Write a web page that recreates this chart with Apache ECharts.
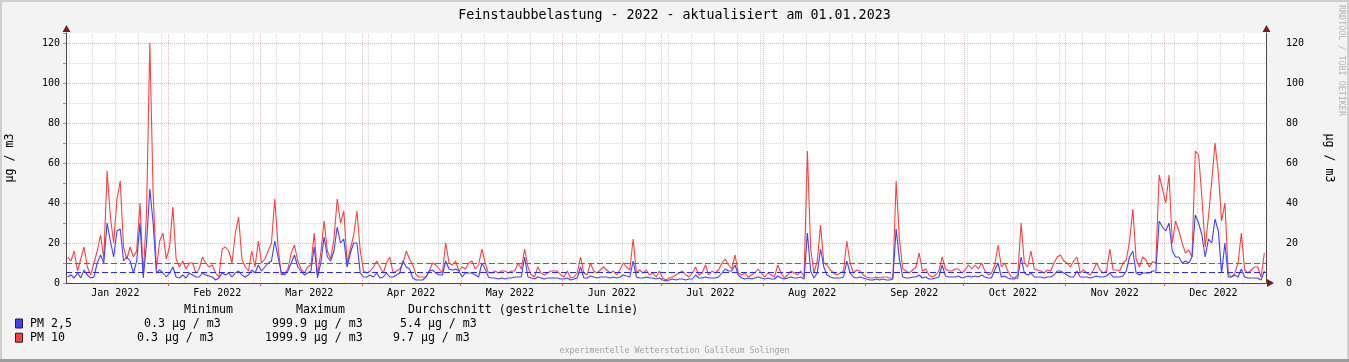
<!DOCTYPE html>
<html><head><meta charset="utf-8">
<script src="https://cdn.jsdelivr.net/npm/echarts@6/dist/echarts.min.js"></script>
<style>html,body{margin:0;padding:0;background:#f3f3f3;overflow:hidden}#c{width:1349px;height:362px}</style>
</head><body><div id="c"></div>
<script>
const chartTitle = 'Feinstaubbelastung - 2022 - aktualisiert am 01.01.2023';
const monthLabels = ['Jan 2022','Feb 2022','Mar 2022','Apr 2022','May 2022','Jun 2022','Jul 2022','Aug 2022','Sep 2022','Oct 2022','Nov 2022','Dec 2022'];
const monthDays = [31,28,31,30,31,30,31,31,30,31,30,31];
const firstSunday = 1; // 2 Jan 2022 (day index)
const yMin = 0, yMax = 125, yStep = 10, yLabelStep = 20;
const unitLabel = 'µg / m3';
const seriesNames = ['PM 2,5', 'PM 10'];
const seriesColors = ['#4040ff', '#ff4040'];
const avgColors = ['#2a2aff', '#ff2a2a'];
const averages = [5.4, 9.7];
const legendHeaders = ['Minimum', 'Maximum', 'Durchschnitt (gestrichelte Linie)'];
const minTexts = ['0.3 µg / m3', '0.3 µg / m3'];
const maxTexts = ['999.9 µg / m3', '1999.9 µg / m3'];
const avgTexts = ['5.4 µg / m3', '9.7 µg / m3'];
const footerText = 'experimentelle Wetterstation Galileum Solingen';
const watermark = 'RRDTOOL / TOBI OETIKER';

// daily values, day 0 = 1 Jan 2022
const pm10 = [
13,11,16,6,12,18,8,4,10,16,
24,12,56,33,20,42,51,18,12,18,
13,16,40,4,35,120,45,7,21,25,
12,18,38,12,8,11,7,10,10,5,
7,13,10,8,9,5,3,17,18,16,
10,25,33,12,8,6,16,8,21,10,
12,16,20,42,18,4,5,7,15,19,
11,7,5,8,9,25,4,15,31,16,
12,22,42,30,36,10,17,24,36,16,
6,5,6,8,11,8,5,10,13,5,
6,7,10,16,12,9,4,3,3,3,
6,10,9,7,5,20,10,9,11,6,
8,7,10,11,7,9,17,10,5,5,
6,5,6,6,5,6,6,10,7,17,
8,4,3,8,5,4,5,6,6,6,
4,3,6,2.5,3,5,13,5,4,10,
6,5,6.5,8,6.5,5,6,4,6.5,10,
8,6.5,22,5,6.5,5,6.5,4,5,3,
6,2.5,1.5,2.5,3,4,5,6,4,3,
5,8,4,5,9,4,6,5,6.5,10,
12,9,7,14,5,4,5,3,4,5,
7,5,3,5,4,3,9,5,2.5,4,
6,5,4,6,3,66,17,5,11,29,
10,9,6.5,5,4,5,6,21,10,5,
6.5,6,4,3,2.5,2.5,3,2.5,3,3,
2.5,2.5,51,22,7,6,5,6.5,8,15,
6,7,4,3,4,6,13,7,6,6,
7,7,5,6.5,9,7,9,7,10,6,
4,5,9,19,8,10,6,3,2.5,4,
30,10,8,16,7,6.5,6,5,6.5,6,
10,13,14,11,10,8,11,13,5,6.5,
5,4,6.5,10,6.5,5,6,17,6.5,6.5,
6,10,11.5,21,37,12,8,13,11.5,8,
10.7,10,54,47,40,54,20,31,26,20,
15,16.5,13,66,64,43,18,33,51,70,
55,31,40,5,3,5,10,25,6.5,5,
6.5,8,8,3,15
];
const pm25 = [
3,4,2.5,5,2.5,6.5,4,2.5,3,10,
14,10,30,21,13,26,27,11,13,11,
5,11,30,2.5,20,47,30,5,6.5,5,
3,5,8,3,2.5,4,2.5,5,4,3,
3,5,4,3.5,3,1.5,2.5,5,4,5,
3,5,6,4,3,4,6.5,5,9,6,
8,10,11,21,13,5,4,6,10,14,
8,6,4,5,6,18,2.5,10,23,13,
11,16,28,20,22,8,15,20,20,5,
3,3,4,3,5,2.5,3,5,3,3,
4,5,11,8,7,2.5,1.5,1.5,1.5,3,
6,6.5,5,4,4,11,7,6.5,7,6,
3,5,5,5,4,3,10,7,3,2.5,
2.5,2,2.5,2,2.5,2.5,3,3,3,13,
3,2.5,2,3,2.5,2,2.5,2.5,2.5,2.5,
2,2,2.5,1.5,2,2.5,8,2.5,2.5,3.5,
3,2.5,3,3,3,2.5,3,2.5,3,4,
3.5,3,11,3,2.5,2.5,3,2.5,2.5,2,
2.5,1.5,1,1.5,2,1.5,2,2,1.5,2,
2,4,2.5,2.5,3,2.5,2.5,2.5,3,5,
7,6,6,9,4,2.5,2,2.5,2,2.5,
3,2.5,2,2.5,2,2,3.5,2.5,2,2.5,
3,2.5,2.5,3,2,25,6,2.5,5,17,
8,4,3,2.5,2.5,2.5,3,11,5,3,
2.5,3,2.5,2,1.5,1.5,2,1.5,2,1.5,
1.5,2,27,12,3,2.5,2.5,3,3,4,
2.5,3,2,2,2.5,3,9,3.5,3,3,
3,3.5,2.5,3,3.5,3,3.5,3,4,3,
2.5,2.5,6.5,10,3,3.5,2.5,2,2,2.5,
13,5,4,5,3,3,3,2.5,3,3,
4,6,6,5,4,3,3,6,3,3,
3,2.5,3,3.5,3,3,3.5,5,3,3,
3,3.5,6,13,16,5,4,5,5,5,
6,6,31,28,26,30,16,13,13,10,
11,10,13,34,30,24,13,22,20,32,
26,5,20,3,3,4,3,7,3,2.5,
2.5,2.5,2.5,1.5,6
];

const totalDays = monthDays.reduce((a, b) => a + b, 0);
const monthStarts = [];
{ let s = 0; for (const m of monthDays) { monthStarts.push(s); s += m; } }
const monthMids = monthStarts.map(s => s + 15);
const weekLines = [];
for (let d = firstSunday; d < totalDays; d += 7) weekLines.push(d);

const MONO = '"DejaVu Sans Mono", monospace';
const gridL = 66, gridR = 83, gridT = 33, gridB = 79;

const vGrid = weekLines.map(d => [d, 0]).concat(monthStarts.slice(1).map(d => [d, 1]));
const seriesData = [pm25, pm10];

const chart = echarts.init(document.getElementById('c'), null, {renderer: 'canvas'});

const yLabelFmt = v => (v % yLabelStep === 0 && v <= 120 ? String(v) : '');

const graphic = [
  {type: 'rect', shape: {x: 0, y: 0, width: 1349, height: 2}, style: {fill: '#cfcfcf'}, silent: true},
  {type: 'rect', shape: {x: 0, y: 0, width: 2, height: 362}, style: {fill: '#cfcfcf'}, silent: true},
  {type: 'rect', shape: {x: 1347, y: 0, width: 2, height: 362}, style: {fill: '#cfcfcf'}, silent: true},
  {type: 'rect', shape: {x: 0, y: 359, width: 1349, height: 3}, style: {fill: '#9c9c9c'}, silent: true},
  {type: 'polygon', shape: {points: [[62.5, 32], [70.5, 32], [66.5, 25]]}, style: {fill: '#7a1c1c'}, silent: true, z: 10},
  {type: 'polygon', shape: {points: [[1262.5, 32], [1270.5, 32], [1266.5, 25]]}, style: {fill: '#7a1c1c'}, silent: true, z: 10},
  {type: 'polygon', shape: {points: [[1267, 279], [1267, 287], [1274, 283]]}, style: {fill: '#7a1c1c'}, silent: true, z: 10},
  {type: 'text', x: 1341, y: 5, rotation: -Math.PI / 2,
   style: {text: watermark, font: '8.4px ' + MONO, fill: '#b4b4b4', align: 'left', verticalAlign: 'middle'}, silent: true},
  {type: 'text', x: 674.5, y: 351,
   style: {text: footerText, font: '8.3px ' + MONO, fill: '#a4a4a4', align: 'center', verticalAlign: 'middle'}, silent: true}
];
const headerX = [184, 296, 408];
legendHeaders.forEach((h, i) => graphic.push({type: 'text', x: headerX[i], y: 309.5,
  style: {text: h, font: '11.6px ' + MONO, fill: '#000', verticalAlign: 'middle'}, silent: true}));
const colX = [144, 272, 400];
seriesNames.forEach((name, i) => {
  const y = 323.5 + i * 14.2;
  const shift = (seriesNames[0].length - name.length) * 7;
  graphic.push({type: 'rect', shape: {x: 15.5, y: y - 4.5, width: 7, height: 9},
    style: {fill: seriesColors[i], stroke: '#222', lineWidth: 1}, silent: true});
  graphic.push({type: 'text', x: 30, y: y, style: {text: name, font: '11.6px ' + MONO, fill: '#000', verticalAlign: 'middle'}, silent: true});
  [minTexts[i], maxTexts[i], avgTexts[i]].forEach((t, k) => {
    graphic.push({type: 'text', x: colX[k] - shift, y: y,
      style: {text: t, font: '11.6px ' + MONO, fill: '#000', verticalAlign: 'middle'}, silent: true});
  });
});

const lineSeries = [1, 0].map(i => ({
  name: seriesNames[i], type: 'line', z: 3 + (1 - i),
  data: seriesData[i].map((v, d) => [d + 0.5, v]),
  showSymbol: false, symbol: 'none', animation: false,
  lineStyle: {color: seriesColors[i], width: 1.1},
  itemStyle: {color: seriesColors[i]},
  markLine: {silent: true, symbol: ['none', 'none'], animation: false,
    label: {show: false},
    lineStyle: {color: avgColors[i], type: [6, 3], width: 1},
    data: [{yAxis: averages[i]}]}
}));

chart.setOption({
  backgroundColor: '#f3f3f3',
  animation: false,
  title: {text: chartTitle, left: 'center', top: 4,
    textStyle: {fontFamily: MONO, fontSize: 13.3, fontWeight: 'normal', color: '#000'}},
  grid: {left: gridL, right: gridR, top: gridT, bottom: gridB, show: true, backgroundColor: '#ffffff', borderWidth: 0,
    containLabel: false, outerBoundsMode: 'none'},
  xAxis: {
    type: 'value', min: 0, max: totalDays,
    axisLine: {show: true, lineStyle: {color: '#4a4a4a', width: 1}},
    axisTick: {show: true, length: 3, customValues: monthStarts.slice(1), lineStyle: {color: '#c06060'}},
    axisLabel: {show: true, customValues: monthMids, margin: 5,
      formatter: v => monthLabels[monthMids.indexOf(v)] || '',
      fontFamily: MONO, fontSize: 10, color: '#000'},
    splitLine: {show: false}
  },
  yAxis: [
    {type: 'value', min: yMin, max: yMax, interval: yStep, position: 'left',
     name: unitLabel, nameLocation: 'middle', nameGap: 50, nameRotate: 90,
     nameTextStyle: {fontFamily: MONO, fontSize: 11.6, color: '#000'},
     axisLine: {show: true, lineStyle: {color: '#4a4a4a'}},
     axisTick: {show: true, length: 3, lineStyle: {color: '#999'}},
     axisLabel: {formatter: yLabelFmt, margin: 6, fontFamily: MONO, fontSize: 10, color: '#000'},
     splitLine: {show: true, showMaxLine: false, lineStyle: {color: ['#e0bcbc', '#d8d8d8'], type: [1, 1], width: 1}}},
    {type: 'value', min: yMin, max: yMax, interval: yStep, position: 'right',
     name: unitLabel, nameLocation: 'middle', nameGap: 57, nameRotate: -90,
     nameTextStyle: {fontFamily: MONO, fontSize: 11.6, color: '#000'},
     axisLine: {show: true, lineStyle: {color: '#4a4a4a'}},
     axisTick: {show: false},
     axisLabel: {formatter: yLabelFmt, margin: 20, fontFamily: MONO, fontSize: 10, color: '#000'},
     splitLine: {show: false}}
  ],
  series: [
    {type: 'custom', name: 'grid', z: 1, silent: true, animation: false,
     data: vGrid, encode: {x: 0, y: 1},
     renderItem: (params, api) => {
       const x = api.value(0), major = api.value(1) === 1;
       const p0 = api.coord([x, yMin]), p1 = api.coord([x, yMax]);
       const px = Math.round(p0[0]) + 0.5;
       return {type: 'line', shape: {x1: px, y1: p0[1], x2: px, y2: p1[1]},
         style: {stroke: major ? '#e0bcbc' : '#d8d8d8', lineWidth: 1, lineDash: [1, 1]}};
     }},
    ...lineSeries
  ],
  graphic: graphic
});
</script>
</body></html>
